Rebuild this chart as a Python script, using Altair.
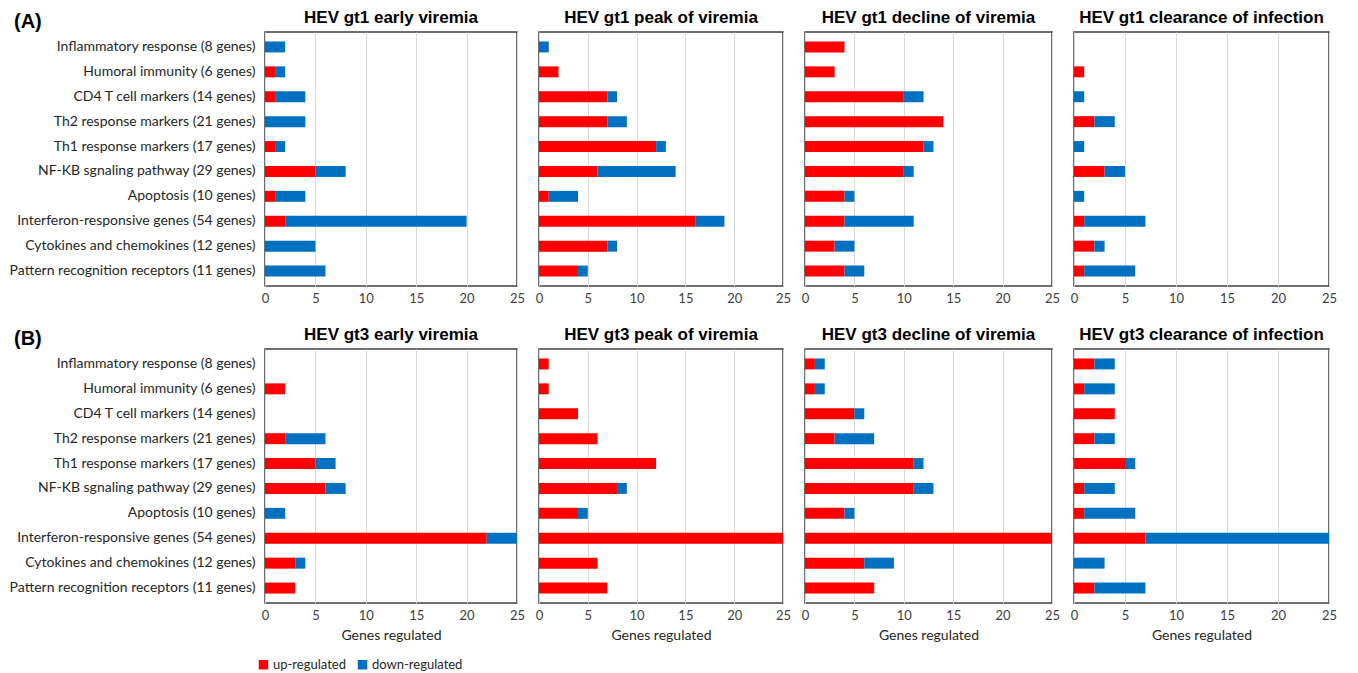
import altair as alt
import pandas as pd

categories = [
    "Inflammatory response (8 genes)",
    "Humoral immunity (6 genes)",
    "CD4 T cell markers (14 genes)",
    "Th2 response markers (21 genes)",
    "Th1 response markers (17 genes)",
    "NF-KB sgnaling pathway (29 genes)",
    "Apoptosis (10 genes)",
    "Interferon-responsive genes (54 genes)",
    "Cytokines and chemokines (12 genes)",
    "Pattern recognition receptors (11 genes)",
]

panel_titles = [
    "HEV gt1 early viremia", "HEV gt1 peak of viremia",
    "HEV gt1 decline of viremia", "HEV gt1 clearance of infection",
    "HEV gt3 early viremia", "HEV gt3 peak of viremia",
    "HEV gt3 decline of viremia", "HEV gt3 clearance of infection",
]

# up-regulated / down-regulated counts per panel (category order above)
gt1_early_up = [0, 1, 1, 0, 1, 5, 1, 2, 0, 0]
gt1_early_down = [2, 1, 3, 4, 1, 3, 3, 18, 5, 6]
gt1_peak_up = [0, 2, 7, 7, 12, 6, 1, 16, 7, 4]
gt1_peak_down = [1, 0, 1, 2, 1, 8, 3, 3, 1, 1]
gt1_decline_up = [4, 3, 10, 14, 12, 10, 4, 4, 3, 4]
gt1_decline_down = [0, 0, 2, 0, 1, 1, 1, 7, 2, 2]
gt1_clear_up = [0, 1, 0, 2, 0, 3, 0, 1, 2, 1]
gt1_clear_down = [0, 0, 1, 2, 1, 2, 1, 6, 1, 5]

gt3_early_up = [0, 2, 0, 2, 5, 6, 0, 22, 3, 3]
gt3_early_down = [0, 0, 0, 4, 2, 2, 2, 3, 1, 0]
gt3_peak_up = [1, 1, 4, 6, 12, 8, 4, 25, 6, 7]
gt3_peak_down = [0, 0, 0, 0, 0, 1, 1, 0, 0, 0]
gt3_decline_up = [1, 1, 5, 3, 11, 11, 4, 25, 6, 7]
gt3_decline_down = [1, 1, 1, 4, 1, 2, 1, 0, 3, 0]
gt3_clear_up = [2, 1, 4, 2, 5, 1, 1, 7, 0, 2]
gt3_clear_down = [2, 3, 0, 2, 1, 3, 5, 18, 3, 5]

x_ticks = [0, 5, 10, 15, 20, 25]
directions = ["up-regulated", "down-regulated"]
colors = ["#FF0000", "#0070C0"]
row_tags = ["(A)", "(B)"]

series = [
    (gt1_early_up, gt1_early_down), (gt1_peak_up, gt1_peak_down),
    (gt1_decline_up, gt1_decline_down), (gt1_clear_up, gt1_clear_down),
    (gt3_early_up, gt3_early_down), (gt3_peak_up, gt3_peak_down),
    (gt3_decline_up, gt3_decline_down), (gt3_clear_up, gt3_clear_down),
]

rows = []
for p, (ups, downs) in enumerate(series):
    for c, u, d in zip(categories, ups, downs):
        rows.append({"panel": p, "category": c, "direction": directions[0], "ord": 0, "value": u})
        rows.append({"panel": p, "category": c, "direction": directions[1], "ord": 1, "value": d})
df = pd.DataFrame(rows)

widths = [252, 244, 247, 255]
H = 254

LABEL_FONT = "Lato"
TITLE_FONT = "Liberation Sans"


def panel(p):
    col = p % 4
    bottom = p >= 4
    sub = df[df.panel == p]
    if col == 0:
        yaxis = alt.Axis(title=None, ticks=False, domain=False, labelFontSize=14,
                         labelFont=LABEL_FONT, labelColor="#262626", labelPadding=10,
                         labelLimit=400)
    else:
        yaxis = None
    xaxis = alt.Axis(
        values=x_ticks, title="Genes regulated" if bottom else None,
        ticks=False, domain=False, grid=True, gridColor="#d9d9d9", gridWidth=1,
        labelFontSize=13, labelFont=LABEL_FONT, labelColor="#404040", labelPadding=6,
        titleFont=LABEL_FONT, titleFontSize=14, titleFontWeight="normal",
        titleColor="#262626", titlePadding=6, labelFlush=False,
    )
    bars = alt.Chart(sub).mark_bar().encode(
        x=alt.X("value:Q", stack="zero", axis=xaxis,
                scale=alt.Scale(domain=[0, 25], nice=False, zero=True)),
        y=alt.Y("category:N", sort=categories, axis=yaxis,
                scale=alt.Scale(paddingInner=0.56, paddingOuter=0.38)),
        color=alt.Color("direction:N",
                        scale=alt.Scale(domain=directions, range=colors),
                        legend=alt.Legend(title=None, orient="none", legendX=-8,
                                          legendY=626, direction="horizontal",
                                          symbolType="square", symbolSize=90,
                                          symbolStrokeWidth=0, labelFontSize=13,
                                          labelFont=LABEL_FONT, labelColor="#262626",
                                          columnPadding=10, labelOffset=3)),
        order=alt.Order("ord:Q"),
    )
    layers = [bars]
    offset = 5
    if col == 0:
        tag = row_tags[0] if p == 0 else row_tags[1]
        txt = alt.Chart(pd.DataFrame({"t": [tag]})).mark_text(
            align="left", baseline="alphabetic", fontSize=20, fontWeight="bold",
            font=TITLE_FONT, color="#000000"
        ).encode(text="t:N", x=alt.value(-251), y=alt.value(-4))
        layers.append(txt)
        offset = -15
    ch = alt.layer(*layers).properties(
        width=widths[col], height=H,
        title=alt.TitleParams(panel_titles[p], fontSize=17, font=TITLE_FONT,
                              fontWeight="bold", color="#000000", offset=offset,
                              anchor="middle"),
    )
    return ch


chart = alt.concat(*[panel(p) for p in range(8)], columns=4, bounds="flush",
                   spacing={"row": 63, "column": 22}).configure(
    background="#ffffff", padding=0
).configure_view(
    stroke="#404040", strokeWidth=1.5
)

chart.save("out.html", embed_options={"renderer": "svg", "actions": False})
